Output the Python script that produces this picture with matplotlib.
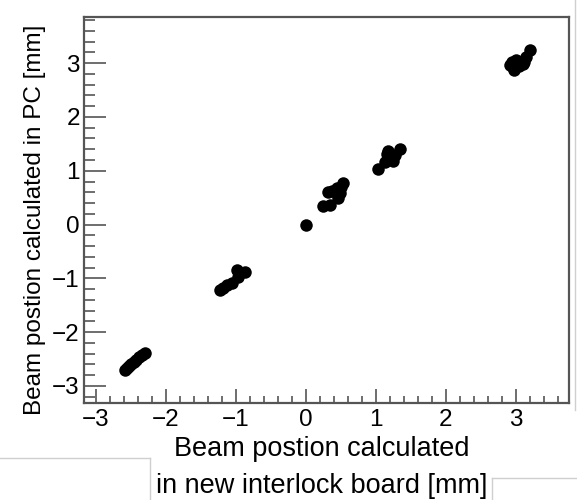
import matplotlib
matplotlib.use("Agg")
import matplotlib.pyplot as plt
from matplotlib.lines import Line2D
from matplotlib.ticker import MultipleLocator

plt.rcParams['font.family'] = ['Liberation Sans', 'DejaVu Sans']

# beam position from the new interlock board vs. from the PC [mm]
x_board = [-2.59, -2.56, -2.53, -2.50, -2.46, -2.42, -2.38, -2.34, -2.30,
           -1.23, -1.19, -1.13, -1.06, -0.97, -0.99, -0.87,
           0.00,
           0.24, 0.34, 0.31, 0.46, 0.53, 0.44, 0.49, 0.38, 0.50,
           1.03, 1.16, 1.34, 1.24, 1.20, 1.13, 1.18, 1.28,
           2.92, 2.95, 2.98, 3.00, 3.04, 3.08, 3.12, 3.10, 3.20, 3.15, 2.96]
y_pc = [-2.71, -2.67, -2.63, -2.60, -2.56, -2.52, -2.47, -2.43, -2.39,
        -1.22, -1.18, -1.13, -1.08, -0.98, -0.85, -0.89,
        -0.01,
        0.34, 0.36, 0.60, 0.49, 0.77, 0.67, 0.58, 0.62, 0.70,
        1.03, 1.32, 1.41, 1.19, 1.25, 1.16, 1.36, 1.30,
        2.97, 3.03, 2.88, 3.06, 2.95, 3.00, 3.03, 2.98, 3.25, 3.12, 2.93]

fig = plt.figure(figsize=(5.77, 5.00), dpi=100)
ax = fig.add_axes([84 / 577, 97 / 500, 485 / 577, 386 / 500])

ax.plot(x_board, y_pc, 'o', color='black', markersize=9, markeredgewidth=0)

ax.set_xlim(-3.17, 3.76)
ax.set_ylim(-3.32, 3.86)
ax.xaxis.set_major_locator(MultipleLocator(1))
ax.yaxis.set_major_locator(MultipleLocator(1))
ax.xaxis.set_minor_locator(MultipleLocator(0.2))
ax.yaxis.set_minor_locator(MultipleLocator(0.2))
ax.tick_params(axis='both', which='both', direction='in', top=False, right=False,
               color='#555555', labelsize=17.5)
ax.tick_params(axis='x', which='major', length=10, width=1.2, pad=4)
ax.tick_params(axis='x', which='minor', length=5, width=1.2)
ax.tick_params(axis='y', which='major', length=16, width=1.2, pad=3)
ax.tick_params(axis='y', which='minor', length=8, width=1.2)
for s in ax.spines.values():
    s.set_color('#555555')
    s.set_linewidth(1.6)

fig.text(35 / 577, 1 - 220 / 500, 'Beam postion calculated in PC [mm]',
         rotation=90, ha='center', va='center', fontsize=17.5)
fig.text(322 / 577, 1 - 449 / 500, 'Beam postion calculated',
         ha='center', va='center', fontsize=19.5)
fig.text(322 / 577, 1 - 486 / 500, 'in new interlock board [mm]',
         ha='center', va='center', fontsize=19.5)

# faint screenshot borders
grey = '#cfcfcf'
for (xs, ys) in [([575, 575], [0, 410]), ([0, 150], [458, 458]), ([150, 150], [458, 500]),
                 ([492, 577], [478, 478]), ([492, 492], [478, 500])]:
    fig.add_artist(Line2D([v / 577 for v in xs], [1 - v / 500 for v in ys],
                          color=grey, linewidth=1, transform=fig.transFigure))

fig.savefig('out.png', dpi=100)
